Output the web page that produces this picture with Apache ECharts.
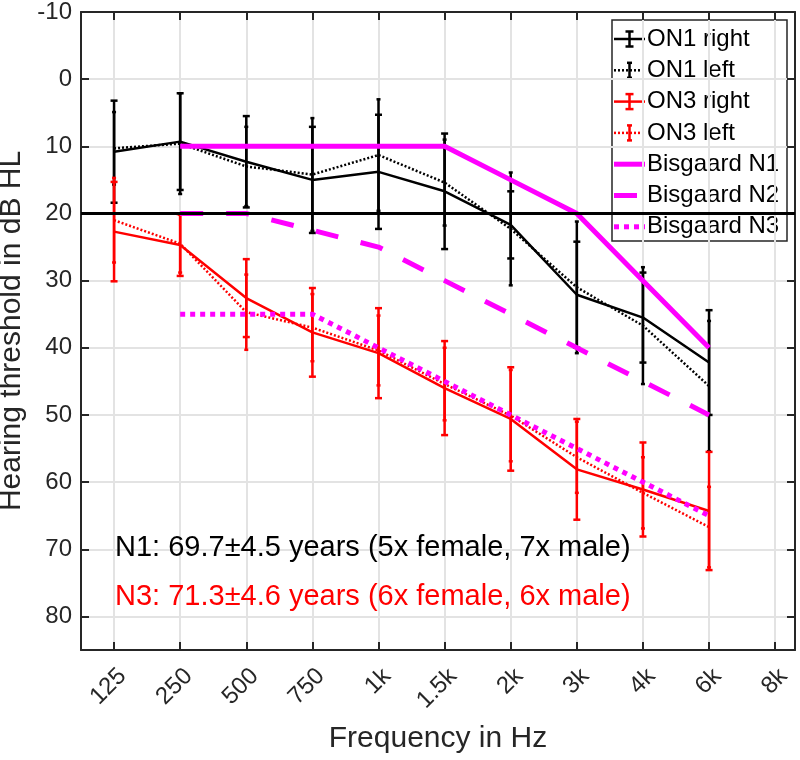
<!DOCTYPE html>
<html>
<head>
<meta charset="utf-8">
<title>Hearing thresholds ON1 / ON3</title>
<script src="https://cdn.jsdelivr.net/npm/echarts@6/dist/echarts.min.js"></script>
<style>
  html, body { margin: 0; padding: 0; background: #fff; }
  #chart { width: 800px; height: 760px; }
</style>
</head>
<body>
<div id="chart"></div>
<script>
// Audiogram: mean thresholds (+/- SD) of two groups against Bisgaard standard audiograms

const freqLabels = ['125', '250', '500', '750', '1k', '1.5k', '2k', '3k', '4k', '6k', '8k'];
const xTickIdx = [0, 1, 2, 3, 4, 5, 6, 7, 8, 9, 10];
const yTicks = [-10, 0, 10, 20, 30, 40, 50, 60, 70, 80];

const on1Right = [10.8, 9.3, 12.3, 15.0, 13.8, 16.7, 21.7, 32.1, 35.5, 42.2];
const on1RightSd = [7.6, 7.2, 6.8, 7.9, 8.5, 8.6, 5.0, 7.9, 6.7, 7.8];
const on1Left = [10.3, 9.6, 13.0, 14.2, 11.3, 15.4, 22.3, 31.0, 36.7, 45.7];
const on1LeftSd = [5.4, 7.5, 5.9, 8.4, 8.3, 6.4, 8.4, 9.8, 8.7, 9.7];

const on3Right = [22.7, 24.7, 32.6, 37.7, 40.8, 46.0, 50.6, 58.1, 61.1, 64.3];
const on3RightSd = [7.4, 4.6, 5.8, 6.6, 6.7, 7.0, 7.7, 7.5, 7.0, 8.8];
const on3Left = [21.0, 24.5, 34.7, 37.0, 40.4, 45.4, 50.1, 56.3, 61.6, 66.7];
const on3LeftSd = [6.3, 4.3, 5.6, 5.0, 5.2, 5.4, 6.8, 5.3, 5.3, 6.0];

// Bisgaard standard audiograms (no value at 125 Hz)
const bisgaardN1 = [null, 10, 10, 10, 10, 10, 15, 20, 30, 40];
const bisgaardN2 = [null, 20, 20, 22.5, 25, 30, 35, 40, 45, 50];
const bisgaardN3 = [null, 35, 35, 35, 40, 45, 50, 55, 60, 65];

const referenceLevel = 20;

const legendNames = ['ON1 right', 'ON1 left', 'ON3 right', 'ON3 left', 'Bisgaard N1', 'Bisgaard N2', 'Bisgaard N3'];
const notes = [
    { text: 'N1: 69.7\u00b14.5 years (5x female, 7x male)', color: '#000000' },
    { text: 'N3: 71.3\u00b14.6 years (6x female, 6x male)', color: '#ff0000' },
];

const FONT = '"Liberation Sans", Arial, Helvetica, sans-serif';
const AXIS = '#262626';
const GRID = '#e3e3e3';

const styles = {
    'ON1 right': { color: '#000000', width: 2.5, dash: 'solid', cap: 3.5, legendCap: 4 },
    'ON1 left': { color: '#000000', width: 2.5, dash: [2, 2], cap: 2, legendCap: 2.5 },
    'ON3 right': { color: '#ff0000', width: 2.5, dash: 'solid', cap: 3.5, legendCap: 4 },
    'ON3 left': { color: '#ff0000', width: 2.5, dash: [2, 2], cap: 2, legendCap: 2.5 },
    'Bisgaard N1': { color: '#ff00ff', width: 5, dash: 'solid' },
    'Bisgaard N2': { color: '#ff00ff', width: 5, dash: [23, 23] },
    'Bisgaard N3': { color: '#ff00ff', width: 5, dash: [5, 5] },
};

const pairs = (vals) => vals.map((v, i) => [i, v]).filter((d) => d[1] != null);
const withSd = (vals, sds) => vals.map((v, i) => [i, v, sds[i]]);

function lineSeries(name, vals) {
    const s = styles[name];
    return {
        name: name,
        type: 'line',
        data: pairs(vals),
        symbol: 'none',
        lineStyle: { color: s.color, width: s.width, type: s.dash, cap: 'butt' },
        itemStyle: { color: s.color },
        silent: true,
    };
}

function errorSeries(name, vals, sds) {
    const s = styles[name];
    return {
        name: name,
        type: 'custom',
        data: withSd(vals, sds),
        encode: { x: 0, y: 1 },
        silent: true,
        renderItem: function (params, api) {
            const x = api.value(0);
            const m = api.value(1);
            const sd = api.value(2);
            const top = api.coord([x, m - sd]);
            const bot = api.coord([x, m + sd]);
            const st = { stroke: s.color, lineWidth: 2.5 };
            return {
                type: 'group',
                children: [
                    { type: 'line', shape: { x1: top[0], y1: top[1], x2: bot[0], y2: bot[1] }, style: st },
                    { type: 'line', shape: { x1: top[0] - s.cap, y1: top[1], x2: top[0] + s.cap, y2: top[1] }, style: st },
                    { type: 'line', shape: { x1: bot[0] - s.cap, y1: bot[1], x2: bot[0] + s.cap, y2: bot[1] }, style: st },
                ],
            };
        },
    };
}

// legend drawn by hand so the icons look like errorbar / line samples
function legendGraphic() {
    const x0 = 612, y0 = 20, w = 175, h = 221;
    const children = [
        { type: 'rect', shape: { x: x0, y: y0, width: w, height: h }, style: { fill: '#ffffff', stroke: AXIS, lineWidth: 1.5 } },
    ];
    legendNames.forEach((name, i) => {
        const s = styles[name];
        const yc = 39 + i * 31.3;
        children.push({
            type: 'line',
            shape: { x1: 614, y1: yc, x2: 645, y2: yc },
            style: { stroke: s.color, lineWidth: s.width, lineDash: Array.isArray(s.dash) ? s.dash : null, lineCap: 'butt' },
        });
        if (s.cap) {
            const st = { stroke: s.color, lineWidth: 2.5 };
            children.push({ type: 'line', shape: { x1: 629.5, y1: yc - 7.5, x2: 629.5, y2: yc + 7.5 }, style: st });
            children.push({ type: 'line', shape: { x1: 629.5 - s.legendCap, y1: yc - 7.5, x2: 629.5 + s.legendCap, y2: yc - 7.5 }, style: st });
            children.push({ type: 'line', shape: { x1: 629.5 - s.legendCap, y1: yc + 7.5, x2: 629.5 + s.legendCap, y2: yc + 7.5 }, style: st });
        }
        children.push({
            type: 'text', x: 647, y: yc,
            style: { text: name, font: '24px ' + FONT, fill: '#000000', align: 'left', verticalAlign: 'middle' },
        });
    });
    return { type: 'group', z: 100, children: children };
}

const chart = echarts.init(document.getElementById('chart'), null, { renderer: 'canvas' });

const option = {
    animation: false,
    backgroundColor: '#ffffff',
    grid: { left: 81, right: 5, top: 12, bottom: 110, containLabel: false, outerBoundsMode: 'none' },
    xAxis: [
        {
            type: 'value', min: -0.5, max: 10.3, position: 'bottom',
            name: 'Frequency in Hz', nameLocation: 'middle', nameGap: 74,
            nameTextStyle: { fontFamily: FONT, fontSize: 30, color: AXIS },
            axisLine: { onZero: false, lineStyle: { color: AXIS, width: 2 } },
            axisTick: { inside: true, length: 8, customValues: xTickIdx, lineStyle: { color: AXIS, width: 2 } },
            axisLabel: {
                customValues: xTickIdx, rotate: 45, verticalAlign: 'top', margin: 14,
                formatter: (v) => freqLabels[Math.round(v)],
                fontFamily: FONT, fontSize: 24, color: AXIS,
            },
            splitLine: { show: true, lineStyle: { color: GRID, width: 2 } },
        },
        {
            type: 'value', min: -0.5, max: 10.3, position: 'top',
            axisLine: { onZero: false, lineStyle: { color: AXIS, width: 2 } },
            axisTick: { inside: true, length: 8, customValues: xTickIdx, lineStyle: { color: AXIS, width: 2 } },
            axisLabel: { show: false },
            splitLine: { show: false },
        },
    ],
    yAxis: [
        {
            type: 'value', inverse: true, min: -10, max: 85, position: 'left',
            name: 'Hearing threshold in dB HL', nameLocation: 'middle', nameGap: 45, nameRotate: 90,
            nameTextStyle: { fontFamily: FONT, fontSize: 30, color: AXIS },
            axisLine: { onZero: false, lineStyle: { color: AXIS, width: 2 } },
            axisTick: { inside: true, length: 8, customValues: yTicks, lineStyle: { color: AXIS, width: 2 } },
            axisLabel: { customValues: yTicks, margin: 9, fontFamily: FONT, fontSize: 24, color: AXIS },
            splitLine: { show: true, lineStyle: { color: GRID, width: 2 } },
        },
        {
            type: 'value', inverse: true, min: -10, max: 85, position: 'right',
            axisLine: { onZero: false, lineStyle: { color: AXIS, width: 2 } },
            axisTick: { inside: true, length: 8, customValues: yTicks, lineStyle: { color: AXIS, width: 2 } },
            axisLabel: { show: false },
            splitLine: { show: false },
        },
    ],
    series: [
        lineSeries('ON1 right', on1Right),
        errorSeries('ON1 right', on1Right, on1RightSd),
        lineSeries('ON1 left', on1Left),
        errorSeries('ON1 left', on1Left, on1LeftSd),
        lineSeries('ON3 right', on3Right),
        errorSeries('ON3 right', on3Right, on3RightSd),
        lineSeries('ON3 left', on3Left),
        errorSeries('ON3 left', on3Left, on3LeftSd),
        {
            name: 'reference', type: 'line', data: [], silent: true,
            markLine: {
                silent: true, symbol: 'none', label: { show: false },
                lineStyle: { color: '#000000', width: 3, type: 'solid' },
                data: [{ yAxis: referenceLevel }],
            },
        },
        lineSeries('Bisgaard N1', bisgaardN1),
        lineSeries('Bisgaard N2', bisgaardN2),
        lineSeries('Bisgaard N3', bisgaardN3),
    ],
    graphic: [
        legendGraphic(),
        {
            type: 'text', x: 115, y: 548, z: 100,
            style: { text: notes[0].text, font: '29px ' + FONT, fill: notes[0].color, align: 'left', verticalAlign: 'middle' },
        },
        {
            type: 'text', x: 115, y: 597, z: 100,
            style: { text: notes[1].text, font: '29px ' + FONT, fill: notes[1].color, align: 'left', verticalAlign: 'middle' },
        },
    ],
};

chart.setOption(option);
</script>
</body>
</html>
